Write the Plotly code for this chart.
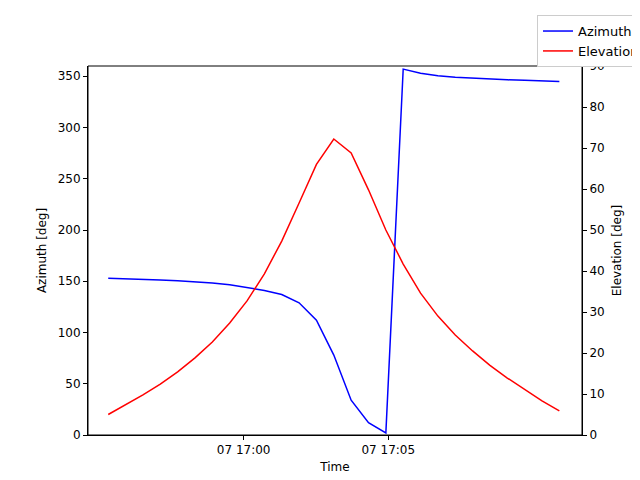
import plotly.graph_objects as go
import pandas as pd

times = pd.date_range("2024-01-07 16:55:19", periods=27, freq="36s")
azimuth = [153, 152.6, 152, 151.3, 150.5, 149.5, 148.2, 146.5, 144, 141,
           137, 129, 112, 78, 34, 12, 2, 357, 353, 350.5, 349, 348, 347, 346.5, 346, 345.5, 345]
elevation = [5, 7.3, 9.8, 12.4, 15.4, 18.8, 22.7, 27.3, 32.7, 39.3, 47.3, 56.6, 66, 72.2,
             68.8, 59.8, 50, 41.7, 34.6, 29, 24.4, 20.5, 17, 13.9, 11, 8.3, 5.9]
tickvals = [pd.Timestamp("2024-01-07 17:00"), pd.Timestamp("2024-01-07 17:05")]
ticktext = ["07 17:00", "07 17:05"]

fig = go.Figure()
fig.add_trace(go.Scatter(x=times, y=azimuth, mode="lines", name="Azimuth",
                         line=dict(color="blue", width=1.5)))
fig.add_trace(go.Scatter(x=times, y=elevation, mode="lines", name="Elevation",
                         line=dict(color="red", width=1.5), yaxis="y2"))
ax = dict(showgrid=False, zeroline=False, showline=True, linecolor="black", mirror=False,
          ticks="outside", ticklen=4, tickcolor="black", automargin=False)
fig.update_layout(
    width=640, height=480, plot_bgcolor="white", paper_bgcolor="white",
    font=dict(family="DejaVu Sans", size=12, color="black"),
    margin=dict(l=80, r=66, t=58, b=53, autoexpand=False),
    xaxis=dict(**ax, range=[pd.Timestamp("2024-01-07 16:54:37"), pd.Timestamp("2024-01-07 17:11:42")],
               tickvals=tickvals, ticktext=ticktext,
               title=dict(text="Time", standoff=6, font=dict(size=12))),
    yaxis=dict(**ax, range=[0, 360], dtick=50, title=dict(text="Azimuth [deg]", standoff=8, font=dict(size=12))),
    yaxis2=dict(**ax, range=[0, 90], dtick=10, overlaying="y", side="right",
                title=dict(text="Elevation [deg]", standoff=8, font=dict(size=12))),
    shapes=[dict(type="rect", xref="paper", yref="paper", x0=0, x1=1, y0=0, y1=1,
                 line=dict(color="black", width=1))],
    legend=dict(x=1.1275, y=1.138, xanchor="right", yanchor="top",
                bordercolor="#cccccc", borderwidth=1, bgcolor="white", font=dict(size=13),
                tracegroupgap=0),
)
fig.write_html("out.html")
